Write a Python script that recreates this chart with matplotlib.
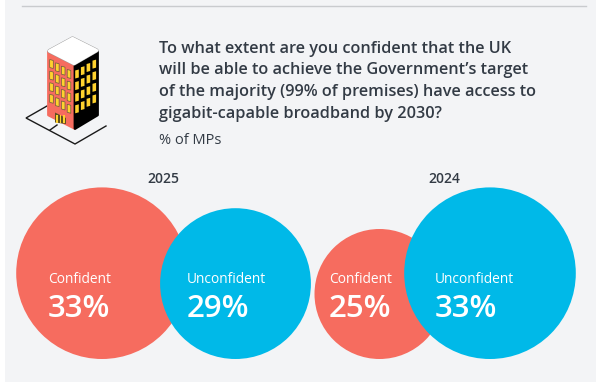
import matplotlib
matplotlib.use('Agg')
import matplotlib.pyplot as plt
from matplotlib.patches import Circle, Polygon, Rectangle

plt.rcParams['font.family'] = ['Open Sans', 'Noto Sans', 'DejaVu Sans']

# data
years = ['2025', '2024']
labels = ['Confident', 'Unconfident', 'Confident', 'Unconfident']
values = [33, 29, 25, 33]
colors = ['#F66C5F', '#00B9E8', '#F66C5F', '#00B9E8']
question = ['To what extent are you confident that the UK',
            'will be able to achieve the Government\u2019s target',
            'of the majority (99% of premises) have access to',
            'gigabit-capable broadband by 2030?']

# layout, in pixels of the picture
centre_x = [102, 235.5, 379.5, 490]
text_x = [48, 187, 329, 434.5]
year_x = [163.5, 444.5]
base_y = 359
px_per_point = 2.6
dark = '#333B45'

fig = plt.figure(figsize=(6.05, 3.82), dpi=100, facecolor='white')
ax = fig.add_axes([0, 0, 1, 1])
ax.set_xlim(0, 605)
ax.set_ylim(382, 0)
ax.axis('off')

# panel and rule
ax.add_patch(Rectangle((5, 0), 591, 382, fc='#F3F4F6', ec='none', zorder=0))
ax.plot([22, 586], [6, 6], color='#C9CBCE', lw=1, zorder=1)

# question
for i in range(len(question)):
    ax.text(159, 52.7 + i * 21.8, question[i], fontsize=11.7, fontweight=600,
            color=dark, va='baseline')
ax.text(159, 143.5, '% of MPs', fontsize=10.5, color=dark, va='baseline')

# year titles
for i in range(len(years)):
    ax.text(year_x[i], 183, years[i], fontsize=10, fontweight=600, color=dark,
            ha='center', va='baseline', zorder=12)

# bubbles, radius follows the value
for i in range(len(values)):
    r = values[i] * px_per_point
    ax.add_patch(Circle((centre_x[i], base_y - r), r, fc=colors[i], ec='none', zorder=2 + i))
    ax.text(text_x[i], 282.7, labels[i], fontsize=9.9, color='white', va='baseline', zorder=10)
    ax.text(text_x[i], 316.7, str(values[i]) + '%', fontsize=22.5, fontweight=600, color='white', va='baseline', zorder=10)

# ground lines of the building icon
ax.plot([47, 26, 75, 106], [106, 118, 144, 126], color='#1A1A1A', lw=1, zorder=2, solid_joinstyle='miter')
ax.plot([50, 57], [130, 125], color='#1A1A1A', lw=1, zorder=2)

# building
ax.add_patch(Polygon([(48.5, 52), (75, 66), (75, 128.5), (48.5, 115)], fc='#F66C5F', ec='#F66C5F', lw=2, joinstyle='round', zorder=3))
ax.add_patch(Polygon([(75, 66), (97.5, 52), (97.5, 115), (75, 128.5)], fc='black', ec='black', lw=2, joinstyle='round', zorder=3))
roof = [(72.5, 38.5), (96.5, 50.5), (74, 63.5), (49.5, 51)]
ax.add_patch(Polygon(roof, fc='#9A9A9A', ec='#9A9A9A', lw=3.0, joinstyle='round', zorder=4))
ax.add_patch(Polygon(roof, fc='white', ec='white', lw=2.4, joinstyle='round', zorder=4))

# windows
for row in range(4):
    for x0 in [51.5, 57.3, 63.2, 69]:
        y0 = 64 + (x0 - 51.5) * 0.57 + row * 11.6
        ax.add_patch(Polygon([(x0 - 1.8, y0 - 4.5), (x0 + 1.8, y0 - 3.5), (x0 + 1.8, y0 + 4.5), (x0 - 1.8, y0 + 3.5)],
                             fc='#FFD22E', ec='#6B5A40', lw=0.5, zorder=5))
    for x0 in [77, 82.7, 88.4, 94.3]:
        y0 = 74 - (x0 - 77) * 0.57 + row * 11.6
        ax.add_patch(Polygon([(x0 - 1.8, y0 - 3.5), (x0 + 1.8, y0 - 4.5), (x0 + 1.8, y0 + 3.5), (x0 - 1.8, y0 + 4.5)],
                             fc='#FFD22E', zorder=5, ec='none'))

# door
ax.add_patch(Polygon([(55, 112.5), (66, 118), (66, 124), (55, 122.5)], fc='#5F5020', ec='none', zorder=5))
for x0 in [57, 60.5, 64]:
    ax.add_patch(Rectangle((x0 - 0.7, 114.5), 1.4, 8.5, fc='#FFD22E', ec='none', zorder=6))

fig.savefig('out.png', dpi=100, facecolor='white')
